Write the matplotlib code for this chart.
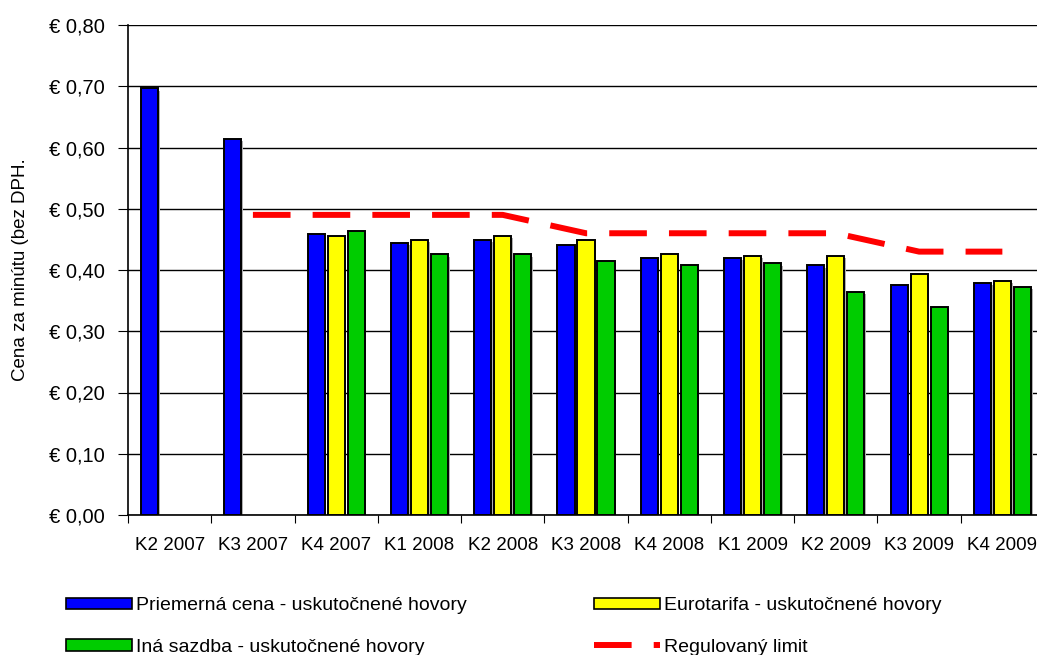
import numpy as np
import matplotlib.pyplot as plt
from matplotlib.patches import Patch
from matplotlib.lines import Line2D

plt.rcParams['font.family'] = ['Liberation Sans', 'DejaVu Sans']
plt.rcParams['font.size'] = 13.5

QUARTERS = ['K2 2007', 'K3 2007', 'K4 2007', 'K1 2008', 'K2 2008', 'K3 2008',
            'K4 2008', 'K1 2009', 'K2 2009', 'K3 2009', 'K4 2009']
AVG_PRICE = [0.697, 0.614, 0.459, 0.444, 0.449, 0.441, 0.420, 0.420, 0.408, 0.376, 0.379]
EUROTARIFF = [np.nan, np.nan, 0.456, 0.449, 0.456, 0.449, 0.426, 0.423, 0.423, 0.393, 0.382]
OTHER_RATE = [np.nan, np.nan, 0.464, 0.426, 0.426, 0.415, 0.408, 0.411, 0.364, 0.340, 0.373]
LIMIT = [np.nan, 0.49, 0.49, 0.49, 0.49, 0.46, 0.46, 0.46, 0.46, 0.43, 0.43]
Y_TICKS = [0.0, 0.1, 0.2, 0.3, 0.4, 0.5, 0.6, 0.7, 0.8]

COLORS = ['#0000ff', '#ffff00', '#00cc00']
LABELS = ['Priemerná cena - uskutočnené hovory',
          'Eurotarifa - uskutočnené hovory',
          'Iná sazdba - uskutočnené hovory',
          'Regulovaný limit']

fig = plt.figure(figsize=(10.37, 6.55), dpi=100)
ax = fig.add_axes([128 / 1037, 1 - 515 / 655, 916 / 1037, 490 / 655])

x = np.arange(len(QUARTERS))
w = 0.205
off = 0.24
for vals, dx, c in zip([AVG_PRICE, EUROTARIFF, OTHER_RATE], [-off, 0, off], COLORS):
    v = np.array(vals)
    ok = ~np.isnan(v)
    # gray shadow like the excel export
    ax.bar(x[ok] + dx + 0.02, v[ok], width=w, bottom=-0.004, color='#b0b0b0',
           edgecolor='none', zorder=2)
    ax.bar(x[ok] + dx, v[ok], width=w, color=c, edgecolor='black',
           linewidth=1.4, zorder=3)

ax.plot(x, LIMIT, color='#ff0000', linewidth=4.3, dashes=(6.3, 3.7),
        solid_capstyle='butt', dash_capstyle='butt', zorder=4)

ax.set_xlim(-0.5, len(QUARTERS) - 0.5)
ax.set_ylim(0, 0.8)
ax.set_yticks(Y_TICKS)
ax.set_yticklabels(['€ ' + f'{t:.2f}'.replace('.', ',') for t in Y_TICKS], fontsize=14.5)
ax.yaxis.grid(True, color='black', linewidth=1.0, zorder=0)
ax.set_axisbelow(True)

ax.set_xticks(x)
ax.set_xticklabels(QUARTERS)
ax.set_xticks(np.arange(len(QUARTERS) + 1) - 0.5, minor=True)
ax.tick_params(axis='x', which='major', length=0, pad=16)
ax.tick_params(axis='x', which='minor', length=6, width=0.8, direction='out')
ax.tick_params(axis='y', length=7, width=0.8, pad=10)

for s in ['top', 'right']:
    ax.spines[s].set_visible(False)
ax.spines['left'].set_linewidth(1.2)
ax.spines['bottom'].set_linewidth(1.2)

ax.set_ylabel('Cena za minútu (bez DPH.', labelpad=14)

h_avg = Patch(facecolor=COLORS[0], edgecolor='black', linewidth=1.2)
h_eur = Patch(facecolor=COLORS[1], edgecolor='black', linewidth=1.2)
h_oth = Patch(facecolor=COLORS[2], edgecolor='black', linewidth=1.2)
h_lim = Line2D([], [], color='#ff0000', linewidth=4.3, dashes=(6.3, 3.7))

leg1 = fig.legend([h_avg, h_oth], [LABELS[0], LABELS[2]], loc='upper left',
                  bbox_to_anchor=(48 / 1037, 1 - 580 / 655), frameon=False,
                  fontsize=14, handlelength=3.4, handleheight=0.55,
                  handletextpad=0.25, labelspacing=1.25)
leg2 = fig.legend([h_eur, h_lim], [LABELS[1], LABELS[3]], loc='upper left',
                  bbox_to_anchor=(576 / 1037, 1 - 580 / 655), frameon=False,
                  fontsize=14, handlelength=3.4, handleheight=0.55,
                  handletextpad=0.25, labelspacing=1.25)

fig.savefig('out.png', dpi=100)
